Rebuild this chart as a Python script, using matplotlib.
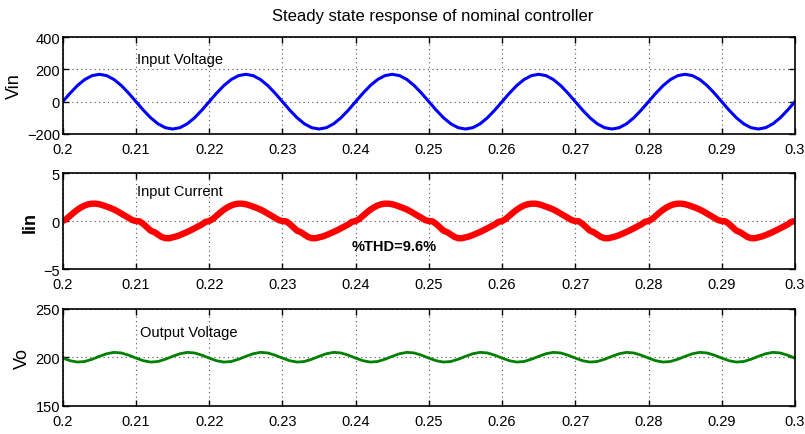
import numpy as np
import matplotlib
matplotlib.use("Agg")
import matplotlib.pyplot as plt

# one period of each signal, sampled from the scope traces
dt_v = 0.001      # Vin / Vo sample step (s)
dt_i = 0.0005     # Iin sample step (s)
t_start, t_end = 0.2, 0.3

vin_cycle = [0, 52.5, 100, 137.5, 161.7, 170, 161.7, 137.5, 100, 52.5,
             0, -52.5, -100, -137.5, -161.7, -170, -161.7, -137.5, -100, -52.5]

iin_cycle = [0.0, 0.22, 0.55, 0.88, 1.18, 1.43, 1.62, 1.75, 1.81, 1.81,
             1.75, 1.64, 1.5, 1.36, 1.2, 1.0, 0.78, 0.55, 0.33, 0.1,
             0.0, -0.03, -0.3, -0.65, -1.0, -1.15, -1.4, -1.65, -1.78, -1.79,
             -1.7, -1.6, -1.46, -1.3, -1.13, -0.95, -0.75, -0.55, -0.35, -0.08]

vo_cycle = [199.1, 196.4, 195.0, 195.6, 197.9, 200.9, 203.6, 205.0, 204.4, 202.1]

n_cycles_v = 5
n_cycles_o = 10

vin = np.append(np.tile(vin_cycle, n_cycles_v), vin_cycle[0])
iin = np.append(np.tile(iin_cycle, n_cycles_v), iin_cycle[0])
vo = np.append(np.tile(vo_cycle, n_cycles_o), vo_cycle[0])

t_v = t_start + dt_v * np.arange(len(vin))
t_i = t_start + dt_i * np.arange(len(iin))
t_o = t_start + dt_v * np.arange(len(vo))

xticks = [0.2, 0.21, 0.22, 0.23, 0.24, 0.25, 0.26, 0.27, 0.28, 0.29, 0.3]
xticklabels = ["0.2", "0.21", "0.22", "0.23", "0.24", "0.25", "0.26", "0.27", "0.28", "0.29", "0.3"]

plt.rcParams["font.family"] = ["Liberation Sans", "DejaVu Sans"]
plt.rcParams["axes.unicode_minus"] = True

fig = plt.figure(figsize=(8.05, 4.35), dpi=100)
left, width = 0.078, 0.9095
ax1 = fig.add_axes([left, 0.690, width, 0.222])
ax2 = fig.add_axes([left, 0.379, width, 0.221])
ax3 = fig.add_axes([left, 0.065, width, 0.223])


def style(ax, yticks, ylabel, bold=False):
    ax.set_xlim(t_start, t_end)
    ax.set_xticks(xticks)
    ax.set_xticklabels(xticklabels)
    ax.set_yticks(yticks)
    ax.set_ylim(yticks[0], yticks[-1])
    ax.tick_params(direction="in", length=4, width=1, top=True, right=True,
                   labelsize=10.5)
    ax.tick_params(axis="x", pad=6)
    ax.tick_params(axis="y", pad=2)
    ax.grid(True, linestyle=(0, (1, 3)), color="#555555", linewidth=0.8)
    for s in ax.spines.values():
        s.set_linewidth(1.2)
    ax.set_ylabel(ylabel, fontsize=13,
                  fontweight="bold" if bold else "normal", labelpad=3)


ax1.plot(t_v, vin, color="#0000ff", linewidth=2.2)
style(ax1, [-200, 0, 200, 400], "Vin")
ax1.text(0.2102, 265, "Input Voltage", fontsize=10.5, va="center")

ax2.plot(t_i, iin, color="#ff0000", linewidth=4.6, solid_capstyle="butt")
style(ax2, [-5, 0, 5], "Iin", bold=True)
ax2.text(0.2101, 3.1, "Input Current", fontsize=10.5, va="center")
ax2.text(0.2394, -2.57, "%THD=9.6%", fontsize=10.5, fontweight="bold", va="center")

ax3.plot(t_o, vo, color="#008000", linewidth=2.0)
style(ax3, [150, 200, 250], "Vo")
ax3.text(0.2106, 226, "Output Voltage", fontsize=10.5, va="center")

fig.text(0.537, 0.963, "Steady state response of nominal controller",
         fontsize=12, ha="center", va="center")

fig.savefig("out.png", dpi=100)
